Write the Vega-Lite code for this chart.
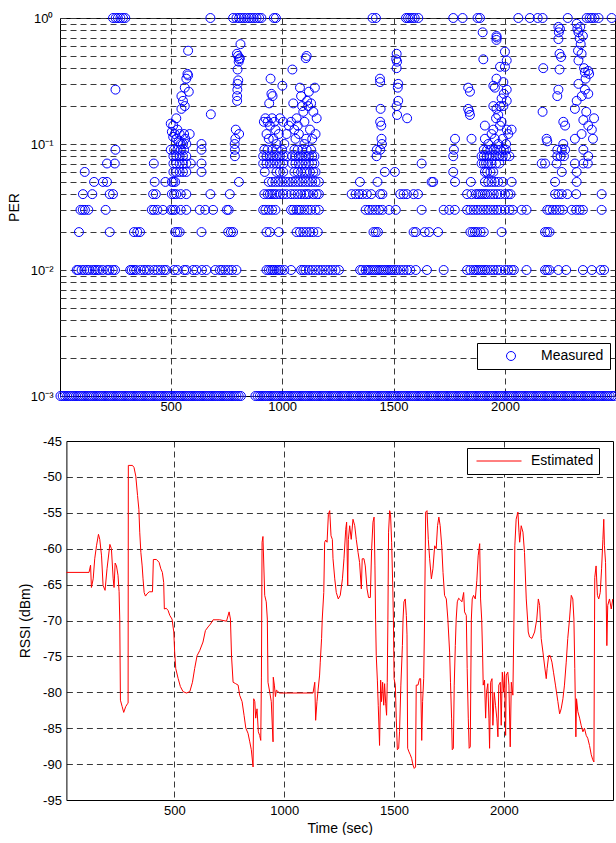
{
"$schema":"https://vega.github.io/schema/vega-lite/v6.json",
"background":"white",
"padding":{"left":6,"top":11,"right":0,"bottom":0},
"align":"none",
"spacing":21,
"config":{
"view":{"stroke":"#000","strokeWidth":1},
"font":"Liberation Sans",
"axis":{"domain":false,"ticks":false,"grid":true,"gridColor":"#3a3a3a","gridDash":[6,4],"gridWidth":1,"labelFont":"Liberation Sans","labelFontSize":13,"labelColor":"#000","titleFont":"Liberation Sans","titleFontSize":14,"titleFontWeight":"normal","titleColor":"#000","labelFlush":false,"labelOverlap":false},
"legend":{"labelFont":"Liberation Sans","labelFontSize":14,"labelColor":"#000"}
},
"resolve":{"scale":{"color":"independent","x":"independent","y":"independent"},"legend":{"color":"independent"}},
"datasets":{
"per":[
{"t":5,"p":0.001},{"t":15,"p":0.001},{"t":25,"p":0.001},{"t":35,"p":0.001},{"t":45,"p":0.001},{"t":55,"p":0.001},{"t":65,"p":0.001},{"t":75,"p":0.001},{"t":85,"p":0.001},{"t":95,"p":0.001},
{"t":105,"p":0.001},{"t":115,"p":0.001},{"t":125,"p":0.001},{"t":135,"p":0.001},{"t":145,"p":0.001},{"t":155,"p":0.001},{"t":165,"p":0.001},{"t":175,"p":0.001},{"t":185,"p":0.001},{"t":195,"p":0.001},
{"t":205,"p":0.001},{"t":215,"p":0.001},{"t":225,"p":0.001},{"t":235,"p":0.001},{"t":245,"p":0.001},{"t":255,"p":0.001},{"t":265,"p":0.001},{"t":275,"p":0.001},{"t":285,"p":0.001},{"t":295,"p":0.001},
{"t":305,"p":0.001},{"t":315,"p":0.001},{"t":325,"p":0.001},{"t":335,"p":0.001},{"t":345,"p":0.001},{"t":355,"p":0.001},{"t":365,"p":0.001},{"t":375,"p":0.001},{"t":385,"p":0.001},{"t":395,"p":0.001},
{"t":405,"p":0.001},{"t":415,"p":0.001},{"t":425,"p":0.001},{"t":435,"p":0.001},{"t":445,"p":0.001},{"t":455,"p":0.001},{"t":465,"p":0.001},{"t":475,"p":0.001},{"t":485,"p":0.001},{"t":495,"p":0.001},
{"t":505,"p":0.001},{"t":515,"p":0.001},{"t":525,"p":0.001},{"t":535,"p":0.001},{"t":545,"p":0.001},{"t":555,"p":0.001},{"t":565,"p":0.001},{"t":575,"p":0.001},{"t":585,"p":0.001},{"t":595,"p":0.001},
{"t":605,"p":0.001},{"t":615,"p":0.001},{"t":625,"p":0.001},{"t":635,"p":0.001},{"t":645,"p":0.001},{"t":655,"p":0.001},{"t":665,"p":0.001},{"t":675,"p":0.001},{"t":685,"p":0.001},{"t":695,"p":0.001},
{"t":705,"p":0.001},{"t":715,"p":0.001},{"t":725,"p":0.001},{"t":735,"p":0.001},{"t":745,"p":0.001},{"t":755,"p":0.001},{"t":765,"p":0.001},{"t":775,"p":0.001},{"t":785,"p":0.001},{"t":795,"p":0.001},
{"t":805,"p":0.001},{"t":815,"p":0.001},
{"t":880,"p":0.001},{"t":890,"p":0.001},{"t":900,"p":0.001},{"t":910,"p":0.001},{"t":920,"p":0.001},{"t":930,"p":0.001},{"t":940,"p":0.001},{"t":950,"p":0.001},{"t":960,"p":0.001},{"t":970,"p":0.001},
{"t":980,"p":0.001},{"t":990,"p":0.001},{"t":1000,"p":0.001},{"t":1010,"p":0.001},{"t":1020,"p":0.001},{"t":1030,"p":0.001},{"t":1040,"p":0.001},{"t":1050,"p":0.001},{"t":1060,"p":0.001},{"t":1070,"p":0.001},
{"t":1080,"p":0.001},{"t":1090,"p":0.001},{"t":1100,"p":0.001},{"t":1110,"p":0.001},{"t":1120,"p":0.001},{"t":1130,"p":0.001},{"t":1140,"p":0.001},{"t":1150,"p":0.001},{"t":1160,"p":0.001},{"t":1170,"p":0.001},
{"t":1180,"p":0.001},{"t":1190,"p":0.001},{"t":1200,"p":0.001},{"t":1210,"p":0.001},{"t":1220,"p":0.001},{"t":1230,"p":0.001},{"t":1240,"p":0.001},{"t":1250,"p":0.001},{"t":1260,"p":0.001},{"t":1270,"p":0.001},
{"t":1280,"p":0.001},{"t":1290,"p":0.001},{"t":1300,"p":0.001},{"t":1310,"p":0.001},{"t":1320,"p":0.001},{"t":1330,"p":0.001},{"t":1340,"p":0.001},{"t":1350,"p":0.001},{"t":1360,"p":0.001},{"t":1370,"p":0.001},
{"t":1380,"p":0.001},{"t":1390,"p":0.001},{"t":1400,"p":0.001},{"t":1410,"p":0.001},{"t":1420,"p":0.001},{"t":1430,"p":0.001},{"t":1440,"p":0.001},{"t":1450,"p":0.001},{"t":1460,"p":0.001},{"t":1470,"p":0.001},
{"t":1480,"p":0.001},{"t":1490,"p":0.001},{"t":1500,"p":0.001},{"t":1510,"p":0.001},{"t":1520,"p":0.001},{"t":1530,"p":0.001},{"t":1540,"p":0.001},{"t":1550,"p":0.001},{"t":1560,"p":0.001},{"t":1570,"p":0.001},
{"t":1580,"p":0.001},{"t":1590,"p":0.001},{"t":1600,"p":0.001},{"t":1610,"p":0.001},{"t":1620,"p":0.001},{"t":1630,"p":0.001},{"t":1640,"p":0.001},{"t":1650,"p":0.001},{"t":1660,"p":0.001},{"t":1670,"p":0.001},
{"t":1680,"p":0.001},{"t":1690,"p":0.001},{"t":1700,"p":0.001},{"t":1710,"p":0.001},{"t":1720,"p":0.001},{"t":1730,"p":0.001},{"t":1740,"p":0.001},{"t":1750,"p":0.001},{"t":1760,"p":0.001},{"t":1770,"p":0.001},
{"t":1780,"p":0.001},{"t":1790,"p":0.001},{"t":1800,"p":0.001},{"t":1810,"p":0.001},{"t":1820,"p":0.001},{"t":1830,"p":0.001},{"t":1840,"p":0.001},{"t":1850,"p":0.001},{"t":1860,"p":0.001},{"t":1870,"p":0.001},
{"t":1880,"p":0.001},{"t":1890,"p":0.001},{"t":1900,"p":0.001},{"t":1910,"p":0.001},{"t":1920,"p":0.001},{"t":1930,"p":0.001},{"t":1940,"p":0.001},{"t":1950,"p":0.001},{"t":1960,"p":0.001},{"t":1970,"p":0.001},
{"t":1980,"p":0.001},{"t":1990,"p":0.001},{"t":2000,"p":0.001},{"t":2010,"p":0.001},{"t":2020,"p":0.001},{"t":2030,"p":0.001},{"t":2040,"p":0.001},{"t":2050,"p":0.001},{"t":2060,"p":0.001},{"t":2070,"p":0.001},
{"t":2080,"p":0.001},{"t":2090,"p":0.001},{"t":2100,"p":0.001},{"t":2110,"p":0.001},{"t":2120,"p":0.001},{"t":2130,"p":0.001},{"t":2140,"p":0.001},{"t":2150,"p":0.001},{"t":2160,"p":0.001},{"t":2170,"p":0.001},
{"t":2180,"p":0.001},{"t":2190,"p":0.001},{"t":2200,"p":0.001},{"t":2210,"p":0.001},{"t":2220,"p":0.001},{"t":2230,"p":0.001},{"t":2240,"p":0.001},{"t":2250,"p":0.001},{"t":2260,"p":0.001},{"t":2270,"p":0.001},
{"t":2280,"p":0.001},{"t":2290,"p":0.001},{"t":2300,"p":0.001},{"t":2310,"p":0.001},{"t":2320,"p":0.001},{"t":2330,"p":0.001},{"t":2340,"p":0.001},{"t":2350,"p":0.001},{"t":2360,"p":0.001},{"t":2370,"p":0.001},
{"t":2380,"p":0.001},{"t":2390,"p":0.001},{"t":2400,"p":0.001},{"t":2410,"p":0.001},{"t":2420,"p":0.001},{"t":2430,"p":0.001},{"t":2440,"p":0.001},{"t":2450,"p":0.001},{"t":2460,"p":0.001},{"t":2470,"p":0.001},
{"t":2480,"p":0.001},{"t":2490,"p":0.001},
{"t":78,"p":0.01},{"t":85,"p":0.01},{"t":100,"p":0.01},{"t":112,"p":0.01},{"t":125,"p":0.01},{"t":135,"p":0.01},{"t":150,"p":0.01},{"t":160,"p":0.01},{"t":170,"p":0.01},{"t":180,"p":0.01},
{"t":195,"p":0.01},{"t":215,"p":0.01},{"t":225,"p":0.01},{"t":240,"p":0.01},{"t":250,"p":0.01},{"t":318,"p":0.01},{"t":325,"p":0.01},{"t":335,"p":0.01},{"t":345,"p":0.01},{"t":365,"p":0.01},
{"t":380,"p":0.01},{"t":392,"p":0.01},{"t":405,"p":0.01},{"t":425,"p":0.01},{"t":440,"p":0.01},{"t":455,"p":0.01},{"t":470,"p":0.01},{"t":480,"p":0.01},{"t":515,"p":0.01},{"t":530,"p":0.01},
{"t":560,"p":0.01},{"t":570,"p":0.01},{"t":600,"p":0.01},{"t":615,"p":0.01},{"t":640,"p":0.01},{"t":660,"p":0.01},{"t":700,"p":0.01},{"t":720,"p":0.01},{"t":730,"p":0.01},{"t":745,"p":0.01},
{"t":760,"p":0.01},{"t":775,"p":0.01},{"t":795,"p":0.01},{"t":930,"p":0.01},{"t":940,"p":0.01},{"t":950,"p":0.01},{"t":958,"p":0.01},{"t":965,"p":0.01},{"t":975,"p":0.01},{"t":985,"p":0.01},
{"t":995,"p":0.01},{"t":1010,"p":0.01},{"t":1040,"p":0.01},{"t":1085,"p":0.01},{"t":1095,"p":0.01},{"t":1105,"p":0.01},{"t":1120,"p":0.01},{"t":1135,"p":0.01},{"t":1150,"p":0.01},{"t":1165,"p":0.01},
{"t":1180,"p":0.01},{"t":1195,"p":0.01},{"t":1210,"p":0.01},{"t":1225,"p":0.01},{"t":1240,"p":0.01},{"t":1255,"p":0.01},{"t":1350,"p":0.01},{"t":1360,"p":0.01},{"t":1375,"p":0.01},{"t":1385,"p":0.01},
{"t":1395,"p":0.01},{"t":1405,"p":0.01},{"t":1415,"p":0.01},{"t":1425,"p":0.01},{"t":1435,"p":0.01},{"t":1445,"p":0.01},{"t":1455,"p":0.01},{"t":1465,"p":0.01},{"t":1475,"p":0.01},{"t":1485,"p":0.01},
{"t":1495,"p":0.01},{"t":1505,"p":0.01},{"t":1515,"p":0.01},{"t":1530,"p":0.01},{"t":1545,"p":0.01},{"t":1560,"p":0.01},{"t":1575,"p":0.01},{"t":1600,"p":0.01},{"t":1650,"p":0.01},{"t":1725,"p":0.01},
{"t":1830,"p":0.01},{"t":1845,"p":0.01},{"t":1860,"p":0.01},{"t":1870,"p":0.01},{"t":1880,"p":0.01},{"t":1890,"p":0.01},{"t":1900,"p":0.01},{"t":1910,"p":0.01},{"t":1920,"p":0.01},{"t":1935,"p":0.01},
{"t":1950,"p":0.01},{"t":1965,"p":0.01},{"t":1980,"p":0.01},{"t":2000,"p":0.01},{"t":2015,"p":0.01},{"t":2030,"p":0.01},{"t":2040,"p":0.01},{"t":2097,"p":0.01},{"t":2180,"p":0.01},{"t":2190,"p":0.01},
{"t":2200,"p":0.01},{"t":2240,"p":0.01},{"t":2275,"p":0.01},{"t":2350,"p":0.01},{"t":2390,"p":0.01},{"t":2430,"p":0.01},{"t":2445,"p":0.01},
{"t":88,"p":0.02},{"t":226,"p":0.02},{"t":335,"p":0.02},{"t":350,"p":0.02},{"t":362,"p":0.02},{"t":520,"p":0.02},{"t":530,"p":0.02},{"t":540,"p":0.02},{"t":638,"p":0.02},{"t":758,"p":0.02},
{"t":770,"p":0.02},{"t":780,"p":0.02},{"t":930,"p":0.02},{"t":945,"p":0.02},{"t":985,"p":0.02},{"t":1065,"p":0.02},{"t":1080,"p":0.02},{"t":1095,"p":0.02},{"t":1110,"p":0.02},{"t":1125,"p":0.02},
{"t":1140,"p":0.02},{"t":1160,"p":0.02},{"t":1410,"p":0.02},{"t":1420,"p":0.02},{"t":1430,"p":0.02},{"t":1590,"p":0.02},{"t":1600,"p":0.02},{"t":1640,"p":0.02},{"t":1660,"p":0.02},{"t":1700,"p":0.02},
{"t":1845,"p":0.02},{"t":1855,"p":0.02},{"t":1865,"p":0.02},{"t":1875,"p":0.02},{"t":1890,"p":0.02},{"t":1905,"p":0.02},{"t":1985,"p":0.02},{"t":2180,"p":0.02},{"t":2190,"p":0.02},{"t":2200,"p":0.02},
{"t":95,"p":0.03},{"t":105,"p":0.03},{"t":115,"p":0.03},{"t":130,"p":0.03},{"t":208,"p":0.03},{"t":415,"p":0.03},{"t":425,"p":0.03},{"t":440,"p":0.03},{"t":465,"p":0.03},{"t":500,"p":0.03},
{"t":510,"p":0.03},{"t":520,"p":0.03},{"t":545,"p":0.03},{"t":570,"p":0.03},{"t":630,"p":0.03},{"t":655,"p":0.03},{"t":690,"p":0.03},{"t":752,"p":0.03},{"t":760,"p":0.03},{"t":915,"p":0.03},
{"t":925,"p":0.03},{"t":940,"p":0.03},{"t":955,"p":0.03},{"t":970,"p":0.03},{"t":1040,"p":0.03},{"t":1050,"p":0.03},{"t":1065,"p":0.03},{"t":1075,"p":0.03},{"t":1085,"p":0.03},{"t":1100,"p":0.03},
{"t":1115,"p":0.03},{"t":1130,"p":0.03},{"t":1150,"p":0.03},{"t":1165,"p":0.03},{"t":1375,"p":0.03},{"t":1390,"p":0.03},{"t":1405,"p":0.03},{"t":1420,"p":0.03},{"t":1435,"p":0.03},{"t":1450,"p":0.03},
{"t":1480,"p":0.03},{"t":1510,"p":0.03},{"t":1626,"p":0.03},{"t":1725,"p":0.03},{"t":1750,"p":0.03},{"t":1775,"p":0.03},{"t":1830,"p":0.03},{"t":1845,"p":0.03},{"t":1860,"p":0.03},{"t":1875,"p":0.03},
{"t":1890,"p":0.03},{"t":1905,"p":0.03},{"t":1920,"p":0.03},{"t":1935,"p":0.03},{"t":1950,"p":0.03},{"t":1965,"p":0.03},{"t":1980,"p":0.03},{"t":2000,"p":0.03},{"t":2020,"p":0.03},{"t":2035,"p":0.03},
{"t":2075,"p":0.03},{"t":2097,"p":0.03},{"t":2190,"p":0.03},{"t":2200,"p":0.03},{"t":2215,"p":0.03},{"t":2230,"p":0.03},{"t":2245,"p":0.03},{"t":2260,"p":0.03},{"t":2300,"p":0.03},{"t":2320,"p":0.03},
{"t":2335,"p":0.03},{"t":2350,"p":0.03},{"t":2434,"p":0.03},
{"t":106,"p":0.04},{"t":148,"p":0.04},{"t":226,"p":0.04},{"t":241,"p":0.04},{"t":421,"p":0.04},{"t":433,"p":0.04},{"t":505,"p":0.04},{"t":515,"p":0.04},{"t":525,"p":0.04},{"t":545,"p":0.04},
{"t":570,"p":0.04},{"t":678,"p":0.04},{"t":765,"p":0.04},{"t":920,"p":0.04},{"t":935,"p":0.04},{"t":945,"p":0.04},{"t":955,"p":0.04},{"t":965,"p":0.04},{"t":975,"p":0.04},{"t":990,"p":0.04},
{"t":1005,"p":0.04},{"t":1020,"p":0.04},{"t":1040,"p":0.04},{"t":1055,"p":0.04},{"t":1070,"p":0.04},{"t":1085,"p":0.04},{"t":1100,"p":0.04},{"t":1110,"p":0.04},{"t":1120,"p":0.04},{"t":1140,"p":0.04},
{"t":1155,"p":0.04},{"t":1165,"p":0.04},{"t":1312,"p":0.04},{"t":1330,"p":0.04},{"t":1345,"p":0.04},{"t":1360,"p":0.04},{"t":1380,"p":0.04},{"t":1400,"p":0.04},{"t":1440,"p":0.04},{"t":1450,"p":0.04},
{"t":1530,"p":0.04},{"t":1545,"p":0.04},{"t":1560,"p":0.04},{"t":1590,"p":0.04},{"t":1610,"p":0.04},{"t":1830,"p":0.04},{"t":1850,"p":0.04},{"t":1870,"p":0.04},{"t":1880,"p":0.04},{"t":1890,"p":0.04},
{"t":1900,"p":0.04},{"t":1910,"p":0.04},{"t":1920,"p":0.04},{"t":1935,"p":0.04},{"t":1950,"p":0.04},{"t":1965,"p":0.04},{"t":1980,"p":0.04},{"t":2000,"p":0.04},{"t":2015,"p":0.04},{"t":2025,"p":0.04},
{"t":2225,"p":0.04},{"t":2240,"p":0.04},{"t":2255,"p":0.04},{"t":2280,"p":0.04},{"t":2320,"p":0.04},{"t":2434,"p":0.04},
{"t":156,"p":0.05},{"t":196,"p":0.05},{"t":214,"p":0.05},{"t":428,"p":0.05},{"t":476,"p":0.05},{"t":505,"p":0.05},{"t":512,"p":0.05},{"t":520,"p":0.05},{"t":806,"p":0.05},{"t":940,"p":0.05},
{"t":955,"p":0.05},{"t":970,"p":0.05},{"t":985,"p":0.05},{"t":1000,"p":0.05},{"t":1015,"p":0.05},{"t":1030,"p":0.05},{"t":1045,"p":0.05},{"t":1060,"p":0.05},{"t":1075,"p":0.05},{"t":1090,"p":0.05},
{"t":1105,"p":0.05},{"t":1120,"p":0.05},{"t":1135,"p":0.05},{"t":1150,"p":0.05},{"t":1165,"p":0.05},{"t":1349,"p":0.05},{"t":1428,"p":0.05},{"t":1671,"p":0.05},{"t":1678,"p":0.05},{"t":1776,"p":0.05},
{"t":1847,"p":0.05},{"t":1910,"p":0.05},{"t":1925,"p":0.05},{"t":1940,"p":0.05},{"t":1955,"p":0.05},{"t":1970,"p":0.05},{"t":1990,"p":0.05},{"t":2030,"p":0.05},{"t":2225,"p":0.05},{"t":2322,"p":0.05},
{"t":114,"p":0.06},{"t":512,"p":0.06},{"t":525,"p":0.06},{"t":540,"p":0.06},{"t":555,"p":0.06},{"t":570,"p":0.06},{"t":638,"p":0.06},{"t":922,"p":0.06},{"t":975,"p":0.06},{"t":990,"p":0.06},
{"t":1005,"p":0.06},{"t":1055,"p":0.06},{"t":1070,"p":0.06},{"t":1085,"p":0.06},{"t":1100,"p":0.06},{"t":1110,"p":0.06},{"t":1125,"p":0.06},{"t":1140,"p":0.06},{"t":1150,"p":0.06},{"t":1461,"p":0.06},
{"t":1506,"p":0.06},{"t":1768,"p":0.06},{"t":1910,"p":0.06},{"t":1920,"p":0.06},{"t":1935,"p":0.06},{"t":1948,"p":0.06},{"t":2255,"p":0.06},{"t":2322,"p":0.06},
{"t":214,"p":0.07},{"t":249,"p":0.07},{"t":424,"p":0.07},{"t":512,"p":0.07},{"t":525,"p":0.07},{"t":540,"p":0.07},{"t":555,"p":0.07},{"t":570,"p":0.07},{"t":590,"p":0.07},{"t":638,"p":0.07},
{"t":915,"p":0.07},{"t":930,"p":0.07},{"t":945,"p":0.07},{"t":960,"p":0.07},{"t":975,"p":0.07},{"t":990,"p":0.07},{"t":1005,"p":0.07},{"t":1045,"p":0.07},{"t":1060,"p":0.07},{"t":1075,"p":0.07},
{"t":1090,"p":0.07},{"t":1105,"p":0.07},{"t":1120,"p":0.07},{"t":1135,"p":0.07},{"t":1145,"p":0.07},{"t":1626,"p":0.07},{"t":1895,"p":0.07},{"t":1905,"p":0.07},{"t":1915,"p":0.07},{"t":1925,"p":0.07},
{"t":1940,"p":0.07},{"t":1960,"p":0.07},{"t":1975,"p":0.07},{"t":2165,"p":0.07},{"t":2180,"p":0.07},{"t":2232,"p":0.07},{"t":2314,"p":0.07},{"t":2352,"p":0.07},{"t":2372,"p":0.07},
{"t":512,"p":0.08},{"t":525,"p":0.08},{"t":540,"p":0.08},{"t":555,"p":0.08},{"t":570,"p":0.08},{"t":788,"p":0.08},{"t":915,"p":0.08},{"t":930,"p":0.08},{"t":945,"p":0.08},{"t":960,"p":0.08},
{"t":975,"p":0.08},{"t":990,"p":0.08},{"t":1005,"p":0.08},{"t":1020,"p":0.08},{"t":1045,"p":0.08},{"t":1060,"p":0.08},{"t":1075,"p":0.08},{"t":1090,"p":0.08},{"t":1105,"p":0.08},{"t":1120,"p":0.08},
{"t":1135,"p":0.08},{"t":1145,"p":0.08},{"t":1424,"p":0.08},{"t":1768,"p":0.08},{"t":1895,"p":0.08},{"t":1905,"p":0.08},{"t":1918,"p":0.08},{"t":1930,"p":0.08},{"t":1945,"p":0.08},{"t":1960,"p":0.08},
{"t":1975,"p":0.08},{"t":1990,"p":0.08},{"t":2005,"p":0.08},{"t":2020,"p":0.08},{"t":2235,"p":0.08},{"t":2250,"p":0.08},{"t":2265,"p":0.08},{"t":2374,"p":0.08},
{"t":252,"p":0.09},{"t":500,"p":0.09},{"t":515,"p":0.09},{"t":530,"p":0.09},{"t":545,"p":0.09},{"t":560,"p":0.09},{"t":638,"p":0.09},{"t":788,"p":0.09},{"t":920,"p":0.09},{"t":935,"p":0.09},
{"t":955,"p":0.09},{"t":975,"p":0.09},{"t":1000,"p":0.09},{"t":1055,"p":0.09},{"t":1070,"p":0.09},{"t":1090,"p":0.09},{"t":1110,"p":0.09},{"t":1130,"p":0.09},{"t":1425,"p":0.09},{"t":1440,"p":0.09},
{"t":1771,"p":0.09},{"t":1905,"p":0.09},{"t":1920,"p":0.09},{"t":1935,"p":0.09},{"t":1950,"p":0.09},{"t":1965,"p":0.09},{"t":1980,"p":0.09},{"t":1995,"p":0.09},{"t":2005,"p":0.09},{"t":2235,"p":0.09},
{"t":2255,"p":0.09},{"t":2270,"p":0.09},{"t":2352,"p":0.09},
{"t":241,"p":1},{"t":253,"p":1},{"t":263,"p":1},{"t":274,"p":1},{"t":286,"p":1},{"t":296,"p":1},{"t":678,"p":1},{"t":780,"p":1},{"t":795,"p":1},{"t":807,"p":1},
{"t":817,"p":1},{"t":828,"p":1},{"t":840,"p":1},{"t":852,"p":1},{"t":862,"p":1},{"t":873,"p":1},{"t":885,"p":1},{"t":897,"p":1},{"t":907,"p":1},{"t":963,"p":1},
{"t":972,"p":1},{"t":1406,"p":1},{"t":1421,"p":1},{"t":1556,"p":1},{"t":1565,"p":1},{"t":1575,"p":1},{"t":1585,"p":1},{"t":1595,"p":1},{"t":1611,"p":1},{"t":1768,"p":1},
{"t":1810,"p":1},{"t":1877,"p":1},{"t":1888,"p":1},{"t":2060,"p":1},{"t":2112,"p":1},{"t":2147,"p":1},{"t":2169,"p":1},{"t":2282,"p":1},{"t":2367,"p":1},{"t":2380,"p":1},
{"t":2390,"p":1},{"t":2402,"p":1},{"t":2420,"p":1},{"t":2479,"p":1},
{"t":252,"p":0.27},
{"t":500,"p":0.145},{"t":505,"p":0.125},{"t":511,"p":0.114},{"t":511,"p":0.14},{"t":518,"p":0.12},{"t":525,"p":0.16},{"t":525,"p":0.11},{"t":530,"p":0.13},{"t":535,"p":0.105},{"t":540,"p":0.12},
{"t":545,"p":0.1},{"t":548,"p":0.19},{"t":548,"p":0.24},{"t":555,"p":0.22},{"t":555,"p":0.1},{"t":560,"p":0.12},{"t":563,"p":0.28},{"t":563,"p":0.2},{"t":565,"p":0.11},{"t":570,"p":0.33},
{"t":570,"p":0.1},{"t":575,"p":0.36},{"t":578,"p":0.35},{"t":581,"p":0.26},{"t":578,"p":0.55},{"t":585,"p":0.12},{"t":680,"p":0.172},{"t":638,"p":0.1},
{"t":787,"p":0.1},{"t":790,"p":0.11},{"t":792,"p":0.13},{"t":798,"p":0.22},{"t":798,"p":0.24},{"t":799,"p":0.27},{"t":800,"p":0.3},{"t":803,"p":0.32},{"t":800,"p":0.39},{"t":805,"p":0.45},
{"t":810,"p":0.48},{"t":797,"p":0.52},{"t":802,"p":0.5},{"t":808,"p":0.47},{"t":813,"p":0.62},{"t":807,"p":0.12},
{"t":918,"p":0.15},{"t":925,"p":0.16},{"t":930,"p":0.12},{"t":935,"p":0.15},{"t":940,"p":0.11},{"t":942,"p":0.21},{"t":945,"p":0.14},{"t":948,"p":0.33},{"t":952,"p":0.25},{"t":955,"p":0.16},
{"t":957,"p":0.24},{"t":960,"p":0.11},{"t":965,"p":0.15},{"t":970,"p":0.13},{"t":975,"p":0.1},{"t":985,"p":0.12},{"t":990,"p":0.16},{"t":1001,"p":0.29},{"t":1005,"p":0.15},{"t":1010,"p":0.1},
{"t":1020,"p":0.12},{"t":1030,"p":0.14},{"t":1040,"p":0.15},{"t":1046,"p":0.39},{"t":1050,"p":0.21},{"t":1055,"p":0.13},{"t":1060,"p":0.11},{"t":1065,"p":0.16},{"t":1070,"p":0.14},{"t":1075,"p":0.12},
{"t":1080,"p":0.28},{"t":1085,"p":0.24},{"t":1090,"p":0.2},{"t":1095,"p":0.18},{"t":1100,"p":0.15},{"t":1106,"p":0.48},{"t":1110,"p":0.5},{"t":1112,"p":0.22},{"t":1117,"p":0.2},{"t":1120,"p":0.26},
{"t":1125,"p":0.13},{"t":1130,"p":0.21},{"t":1135,"p":0.11},{"t":1140,"p":0.18},{"t":1147,"p":0.28},{"t":1150,"p":0.12},{"t":1155,"p":0.16},{"t":1108,"p":0.11},{"t":1100,"p":0.1},
{"t":1439,"p":0.33},{"t":1440,"p":0.31},{"t":1442,"p":0.19},{"t":1440,"p":0.15},{"t":1445,"p":0.14},{"t":1446,"p":0.11},{"t":1448,"p":0.1},{"t":1514,"p":0.52},{"t":1512,"p":0.47},{"t":1516,"p":0.45},
{"t":1514,"p":0.4},{"t":1521,"p":0.3},{"t":1519,"p":0.28},{"t":1521,"p":0.22},{"t":1516,"p":0.17},{"t":1514,"p":0.2},{"t":1561,"p":0.16},
{"t":1776,"p":0.11},{"t":1850,"p":0.11},{"t":1835,"p":0.28},{"t":1843,"p":0.26},{"t":1835,"p":0.19},{"t":1840,"p":0.18},{"t":1843,"p":0.17},{"t":1900,"p":0.77},{"t":1903,"p":0.47},{"t":1962,"p":0.72},
{"t":1963,"p":0.7},{"t":1962,"p":0.67},{"t":2000,"p":0.54},{"t":2008,"p":0.46},{"t":2000,"p":0.41},{"t":1978,"p":0.41},{"t":1962,"p":0.33},{"t":1948,"p":0.29},{"t":1955,"p":0.28},{"t":1993,"p":0.31},
{"t":2008,"p":0.27},{"t":1985,"p":0.23},{"t":2008,"p":0.22},{"t":1948,"p":0.2},{"t":1962,"p":0.19},{"t":1978,"p":0.2},{"t":1993,"p":0.2},{"t":1985,"p":0.15},{"t":1910,"p":0.14},{"t":1948,"p":0.13},
{"t":1978,"p":0.14},{"t":2008,"p":0.13},{"t":2030,"p":0.13},{"t":1910,"p":0.11},{"t":1925,"p":0.1},{"t":1940,"p":0.12},{"t":1955,"p":0.11},{"t":1970,"p":0.1},{"t":1990,"p":0.11},{"t":2005,"p":0.1},
{"t":2015,"p":0.12},{"t":1960,"p":0.16},{"t":1970,"p":0.17},{"t":1995,"p":0.25},
{"t":2172,"p":0.4},{"t":2169,"p":0.18},{"t":2187,"p":0.11},{"t":2190,"p":0.105},{"t":2240,"p":0.85},{"t":2242,"p":0.77},{"t":2247,"p":0.82},{"t":2240,"p":0.68},{"t":2245,"p":0.52},{"t":2252,"p":0.49},
{"t":2245,"p":0.39},{"t":2240,"p":0.27},{"t":2235,"p":0.24},{"t":2262,"p":0.15},{"t":2270,"p":0.14},{"t":2262,"p":0.1},{"t":2322,"p":0.9},{"t":2325,"p":0.82},{"t":2330,"p":0.77},{"t":2335,"p":0.69},
{"t":2340,"p":0.62},{"t":2328,"p":0.55},{"t":2344,"p":0.52},{"t":2330,"p":0.46},{"t":2350,"p":0.72},{"t":2338,"p":0.85},{"t":2355,"p":0.4},{"t":2359,"p":0.37},{"t":2362,"p":0.33},{"t":2374,"p":0.38},
{"t":2378,"p":0.36},{"t":2359,"p":0.27},{"t":2374,"p":0.25},{"t":2322,"p":0.22},{"t":2314,"p":0.19},{"t":2365,"p":0.18},{"t":2352,"p":0.155},{"t":2374,"p":0.14},{"t":2314,"p":0.11},{"t":2344,"p":0.12},
{"t":2390,"p":0.13},{"t":2400,"p":0.16},{"t":2395,"p":0.11},{"t":2330,"p":0.3},{"t":2345,"p":0.24}
],
"rssi":[
{"t":8,"r":-63.3},{"t":111,"r":-63.3},{"t":118,"r":-62.3},{"t":122,"r":-65.4},{"t":130,"r":-64.2},{"t":137,"r":-61.4},{"t":145,"r":-59.6},{"t":154,"r":-58},{"t":160,"r":-58.7},{"t":168,"r":-61},
{"t":175,"r":-65.1},{"t":184,"r":-65.8},{"t":193,"r":-62.8},{"t":206,"r":-59.4},{"t":213,"r":-60},{"t":221,"r":-64.2},{"t":225,"r":-65.4},{"t":230,"r":-62},{"t":236,"r":-62.4},{"t":243,"r":-63.7},
{"t":248,"r":-66},{"t":251,"r":-69.8},{"t":254,"r":-81.1},{"t":262,"r":-82},{"t":269,"r":-82.8},{"t":278,"r":-82},{"t":286,"r":-81.6},{"t":289,"r":-81.5},{"t":290,"r":-48.4},{"t":309,"r":-48.4},
{"t":316,"r":-48.7},{"t":324,"r":-49.9},{"t":332,"r":-52.6},{"t":338,"r":-54.5},{"t":342,"r":-57.7},{"t":347,"r":-60.5},{"t":353,"r":-62.4},{"t":357,"r":-64.2},{"t":362,"r":-66.1},{"t":368,"r":-66.6},
{"t":375,"r":-66.3},{"t":385,"r":-66},{"t":400,"r":-66},{"t":404,"r":-61.5},{"t":418,"r":-61.5},{"t":430,"r":-61.9},{"t":438,"r":-62.8},{"t":445,"r":-63.3},{"t":451,"r":-64.7},{"t":454,"r":-68.4},
{"t":463,"r":-68.3},{"t":471,"r":-68.6},{"t":479,"r":-69.3},{"t":489,"r":-69.8},{"t":497,"r":-71.6},{"t":501,"r":-74.4},{"t":506,"r":-76.7},{"t":517,"r":-78.1},{"t":527,"r":-79.2},{"t":539,"r":-79.9},
{"t":555,"r":-80.1},{"t":570,"r":-79.9},{"t":582,"r":-78.6},{"t":592,"r":-76.7},{"t":603,"r":-74.9},{"t":615,"r":-74.2},{"t":630,"r":-73},{"t":641,"r":-71.4},{"t":653,"r":-70.9},{"t":664,"r":-70.5},
{"t":676,"r":-69.9},{"t":706,"r":-69.9},{"t":737,"r":-70.1},{"t":749,"r":-68.8},{"t":755,"r":-69.8},{"t":760,"r":-75},{"t":767,"r":-78.6},{"t":779,"r":-78.8},{"t":790,"r":-79},{"t":797,"r":-80.4},
{"t":808,"r":-81.3},{"t":817,"r":-83.2},{"t":825,"r":-85},{"t":835,"r":-85.7},{"t":843,"r":-86.9},{"t":850,"r":-88},{"t":858,"r":-90.4},{"t":861,"r":-80.9},{"t":866,"r":-81.3},{"t":870,"r":-83.6},
{"t":876,"r":-82.3},{"t":882,"r":-85.5},{"t":888,"r":-86},{"t":893,"r":-86.7},{"t":896,"r":-78},{"t":899,"r":-59.1},{"t":903,"r":-58.3},{"t":911,"r":-66.5},{"t":918,"r":-67.4},{"t":923,"r":-69.8},
{"t":926,"r":-78.6},{"t":934,"r":-80},{"t":941,"r":-81.3},{"t":946,"r":-85},{"t":949,"r":-86.9},{"t":950,"r":-77.9},{"t":955,"r":-79},{"t":960,"r":-80.6},{"t":964,"r":-79.7},{"t":979,"r":-80.1},
{"t":1131,"r":-80.1},{"t":1139,"r":-78.6},{"t":1143,"r":-83.9},{"t":1149,"r":-81.3},{"t":1154,"r":-79.7},{"t":1161,"r":-77.6},{"t":1164,"r":-75.8},{"t":1170,"r":-72.5},{"t":1173,"r":-69.8},{"t":1180,"r":-66.1},
{"t":1184,"r":-59.1},{"t":1189,"r":-58.8},{"t":1195,"r":-59.1},{"t":1201,"r":-55.2},{"t":1207,"r":-54.7},{"t":1213,"r":-58.2},{"t":1219,"r":-58.7},{"t":1222,"r":-61.4},{"t":1230,"r":-64.2},{"t":1237,"r":-66.1},
{"t":1246,"r":-67},{"t":1255,"r":-66.5},{"t":1265,"r":-64.2},{"t":1272,"r":-61.4},{"t":1280,"r":-57.3},{"t":1284,"r":-56.3},{"t":1289,"r":-65.1},{"t":1292,"r":-58.7},{"t":1298,"r":-56.8},{"t":1305,"r":-58.7},
{"t":1313,"r":-55.9},{"t":1321,"r":-56.8},{"t":1328,"r":-58.7},{"t":1336,"r":-60.5},{"t":1343,"r":-61.9},{"t":1351,"r":-65.6},{"t":1355,"r":-61.4},{"t":1363,"r":-61.4},{"t":1369,"r":-62.4},{"t":1377,"r":-65.6},
{"t":1384,"r":-66.8},{"t":1392,"r":-66.8},{"t":1398,"r":-60},{"t":1404,"r":-56.3},{"t":1409,"r":-55.6},{"t":1413,"r":-62.4},{"t":1416,"r":-69.8},{"t":1419,"r":-74.9},{"t":1424,"r":-78.3},{"t":1428,"r":-81.8},
{"t":1434,"r":-87.4},{"t":1439,"r":-78.3},{"t":1443,"r":-81.3},{"t":1448,"r":-78.6},{"t":1453,"r":-81.8},{"t":1457,"r":-78.8},{"t":1462,"r":-81.6},{"t":1466,"r":-83.2},{"t":1469,"r":-78.6},{"t":1472,"r":-69.8},
{"t":1475,"r":-57.7},{"t":1480,"r":-54.7},{"t":1484,"r":-55.2},{"t":1489,"r":-59.1},{"t":1494,"r":-65.1},{"t":1497,"r":-69.8},{"t":1500,"r":-78.1},{"t":1506,"r":-79},{"t":1510,"r":-83.6},{"t":1515,"r":-88},
{"t":1521,"r":-87.8},{"t":1525,"r":-85.5},{"t":1531,"r":-79},{"t":1538,"r":-73.5},{"t":1541,"r":-69.8},{"t":1545,"r":-67.4},{"t":1551,"r":-67},{"t":1556,"r":-69.3},{"t":1559,"r":-72},{"t":1562,"r":-87.8},
{"t":1568,"r":-88.3},{"t":1574,"r":-88.7},{"t":1580,"r":-89.2},{"t":1586,"r":-90.1},{"t":1592,"r":-90.6},{"t":1598,"r":-90.4},{"t":1601,"r":-79},{"t":1609,"r":-79},{"t":1616,"r":-78.1},{"t":1621,"r":-78.1},
{"t":1626,"r":-86.7},{"t":1630,"r":-81.3},{"t":1635,"r":-78.1},{"t":1639,"r":-69.8},{"t":1644,"r":-54.9},{"t":1650,"r":-54.7},{"t":1656,"r":-58.7},{"t":1662,"r":-61.4},{"t":1670,"r":-64.2},{"t":1677,"r":-62.8},
{"t":1685,"r":-59.6},{"t":1692,"r":-60},{"t":1698,"r":-56.8},{"t":1704,"r":-55.6},{"t":1710,"r":-56.8},{"t":1717,"r":-59.6},{"t":1723,"r":-63.3},{"t":1730,"r":-66.5},{"t":1738,"r":-67},{"t":1745,"r":-69.8},
{"t":1753,"r":-74.4},{"t":1757,"r":-78.6},{"t":1762,"r":-83.6},{"t":1765,"r":-88},{"t":1770,"r":-87.8},{"t":1774,"r":-79},{"t":1779,"r":-73.5},{"t":1783,"r":-69.8},{"t":1788,"r":-67.4},{"t":1794,"r":-66.9},
{"t":1801,"r":-67.1},{"t":1809,"r":-67.4},{"t":1817,"r":-66.1},{"t":1821,"r":-68.8},{"t":1829,"r":-69.3},{"t":1833,"r":-76.7},{"t":1838,"r":-83.6},{"t":1842,"r":-87.8},{"t":1847,"r":-87.6},{"t":1852,"r":-69.8},
{"t":1856,"r":-67},{"t":1862,"r":-66.5},{"t":1870,"r":-67},{"t":1877,"r":-64.4},{"t":1883,"r":-61},{"t":1890,"r":-59.3},{"t":1894,"r":-67},{"t":1899,"r":-69.8},{"t":1903,"r":-74.4},{"t":1906,"r":-79},
{"t":1912,"r":-78.3},{"t":1917,"r":-83.6},{"t":1921,"r":-80},{"t":1927,"r":-78.8},{"t":1932,"r":-83.6},{"t":1935,"r":-87.8},{"t":1940,"r":-78.6},{"t":1946,"r":-78.1},{"t":1950,"r":-84.6},{"t":1956,"r":-80},
{"t":1962,"r":-81.8},{"t":1968,"r":-83.6},{"t":1973,"r":-86.2},{"t":1977,"r":-79},{"t":1984,"r":-78.6},{"t":1988,"r":-84.6},{"t":1993,"r":-77.2},{"t":1999,"r":-80},{"t":2003,"r":-77.2},{"t":2008,"r":-86},
{"t":2011,"r":-77.6},{"t":2018,"r":-77.2},{"t":2023,"r":-79},{"t":2029,"r":-87.6},{"t":2034,"r":-78.6},{"t":2041,"r":-80.4},{"t":2046,"r":-69.8},{"t":2050,"r":-59.6},{"t":2056,"r":-55.9},{"t":2064,"r":-54.9},
{"t":2069,"r":-57.7},{"t":2072,"r":-59.1},{"t":2079,"r":-56.8},{"t":2087,"r":-57.7},{"t":2094,"r":-60.5},{"t":2102,"r":-67},{"t":2108,"r":-69.8},{"t":2111,"r":-71.6},{"t":2117,"r":-72.3},{"t":2128,"r":-72.5},
{"t":2140,"r":-71.6},{"t":2150,"r":-69.8},{"t":2157,"r":-67},{"t":2163,"r":-67.9},{"t":2170,"r":-72.5},{"t":2178,"r":-74.4},{"t":2185,"r":-76.2},{"t":2193,"r":-78.1},{"t":2197,"r":-76.7},{"t":2204,"r":-74.9},
{"t":2211,"r":-74.9},{"t":2219,"r":-75.8},{"t":2226,"r":-77.2},{"t":2235,"r":-79},{"t":2246,"r":-81.3},{"t":2254,"r":-83},{"t":2261,"r":-82.3},{"t":2269,"r":-80.9},{"t":2276,"r":-79},{"t":2284,"r":-75.8},
{"t":2291,"r":-72.5},{"t":2299,"r":-69.8},{"t":2307,"r":-66.5},{"t":2314,"r":-67},{"t":2319,"r":-69.8},{"t":2323,"r":-76.7},{"t":2328,"r":-86.2},{"t":2331,"r":-80.9},{"t":2337,"r":-82.7},{"t":2345,"r":-83.6},
{"t":2352,"r":-84.6},{"t":2360,"r":-85.5},{"t":2367,"r":-85},{"t":2375,"r":-86},{"t":2382,"r":-86.4},{"t":2390,"r":-87.4},{"t":2398,"r":-88.7},{"t":2405,"r":-89.4},{"t":2410,"r":-89.7},{"t":2413,"r":-69.8},
{"t":2414,"r":-64},{"t":2420,"r":-62.4},{"t":2426,"r":-66.5},{"t":2432,"r":-67},{"t":2439,"r":-66.1},{"t":2445,"r":-62.8},{"t":2451,"r":-58.7},{"t":2455,"r":-55.9},{"t":2458,"r":-59.6},{"t":2463,"r":-61.9},
{"t":2466,"r":-67},{"t":2469,"r":-73.5},{"t":2473,"r":-67.9},{"t":2481,"r":-67},{"t":2489,"r":-68.4},{"t":2496,"r":-67}
]
},
"vconcat":[
{
"width":555,"height":378,
"data":{"name":"per"},
"mark":{"type":"point","shape":"circle","filled":false,"size":80,"strokeWidth":1,"opacity":1},
"encoding":{
"x":{"field":"t","type":"quantitative","scale":{"domain":[3,2494],"nice":false,"zero":false},"axis":{"values":[500,1000,1500,2000],"format":"d","title":null,"labelPadding":4}},
"y":{"field":"p","type":"quantitative","scale":{"type":"log","domain":[0.001,1],"nice":false},"axis":{"values":[0.001,0.002,0.003,0.004,0.005,0.006,0.007,0.008,0.009,0.01,0.02,0.03,0.04,0.05,0.06,0.07,0.08,0.09,0.1,0.2,0.3,0.4,0.5,0.6,0.7,0.8,0.9,1],"labelExpr":"datum.value==1?'10⁰':datum.value==0.1?'10⁻¹':datum.value==0.01?'10⁻²':datum.value==0.001?'10⁻³':''","title":"PER","labelPadding":7,"titlePadding":9}},
"color":{"datum":"Measured","scale":{"range":["#0000ff"]},"legend":{"title":null,"orient":"none","legendX":417,"legendY":325,"fillColor":"#ffffff","strokeColor":"#000000","padding":6,"symbolOffset":21,"labelOffset":23,"symbolType":"circle","symbolSize":80,"symbolStrokeWidth":1,"symbolFillColor":"transparent","symbolStrokeColor":"#0000ff"}}
}
},
{
"width":553,"height":359,
"view":{"stroke":null},
"data":{"name":"rssi"},
"resolve":{"axis":{"x":"independent","y":"independent"}},
"layer":[
{
"mark":{"type":"line","strokeWidth":1},
"encoding":{
"x":{"field":"t","type":"quantitative","scale":{"domain":[8,2497],"range":[6.4,553],"nice":false,"zero":false},"axis":{"orient":"bottom","values":[500,1000,1500,2000],"format":"d","title":"Time (sec)","labelPadding":4,"titlePadding":4,"domain":true,"domainColor":"#000","domainWidth":1}},
"y":{"field":"r","type":"quantitative","scale":{"domain":[-95,-45],"nice":false,"zero":false},"axis":{"orient":"left","values":[-95,-90,-85,-80,-75,-70,-65,-60,-55,-50,-45],"labelExpr":"''+datum.value","title":"RSSI (dBm)","labelPadding":5,"titlePadding":10,"offset":-6.4,"domain":true,"domainColor":"#000","domainWidth":1}},
"color":{"datum":"Estimated","scale":{"range":["#ff0000"]},"legend":{"title":null,"orient":"none","legendX":407,"legendY":7,"fillColor":"#ffffff","strokeColor":"#000000","padding":5,"symbolOffset":4,"labelOffset":9,"symbolType":"stroke","symbolSize":2025,"clipHeight":16,"symbolStrokeWidth":1}}
}
},
{
"mark":{"type":"line","strokeWidth":1,"opacity":0},
"encoding":{
"x":{"field":"t","type":"quantitative","axis":{"orient":"top","labels":false,"ticks":false,"grid":false,"title":null,"domain":true,"domainColor":"#000","domainWidth":1}},
"y":{"field":"r","type":"quantitative","axis":{"orient":"right","labels":false,"ticks":false,"grid":false,"title":null,"domain":true,"domainColor":"#000","domainWidth":1}}
}
}
]
}
]
}
